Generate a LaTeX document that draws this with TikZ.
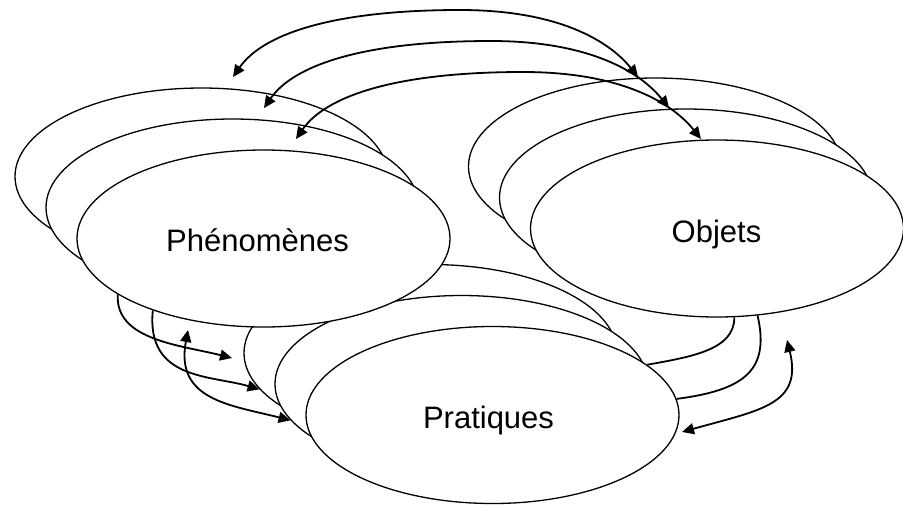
\documentclass[tikz,border=0pt]{standalone}
\usepackage{fontspec}
\setmainfont{Liberation Sans}
\usetikzlibrary{shapes.geometric,arrows.meta}
\begin{document}
\begin{tikzpicture}[x=1pt,y=-1pt,
  ell/.style={ellipse,draw,fill=white,line width=1.3pt,minimum width=373pt,minimum height=177pt,inner sep=0pt},
  lbl/.style={anchor=base,font=\fontsize{31}{36}\selectfont},
  >={Triangle[length=12pt,width=11pt]},
  con/.style={line width=1.8pt}]
\useasboundingbox (0,0) rectangle (903,507);
% Pratiques layers
\node[ell] (pr1) at (430.5,353) {};
\node[ell] (pr2) at (461.5,384) {};
\node[ell] (pr3) at (492.5,415) {};
% Phenomenes layers
\node[ell] (ph1) at (201.5,176.5) {};
\node[ell] (ph2) at (232.5,207.5) {};
\node[ell] (ph3) at (263.5,238.5) {};
% Objets layers
\node[ell] (ob1) at (655,166.5) {};
\node[ell] (ob2) at (686,197.5) {};
\node[ell] (ob3) at (717,228.5) {};
% labels
\node[lbl] (tph) at (257.5,251) {Phénomènes};
\node[lbl] (tob) at (716.5,242) {Objets};
\node[lbl] (tpr) at (488.5,428) {Pratiques};
% free ends
\coordinate (c1e) at (232,358);
\coordinate (c3s) at (188,330);
\coordinate (c6s) at (787,340);
\coordinate (c6e) at (682,432);
\coordinate (a1l) at (233,77);  \coordinate (a1m) at (460,10);  \coordinate (a1r) at (638,77);
\coordinate (a2l) at (264,108); \coordinate (a2m) at (491,41);  \coordinate (a2r) at (669,108);
\coordinate (a3l) at (296,139); \coordinate (a3m) at (523,72);  \coordinate (a3r) at (701,139);
% Phenomenes - Pratiques
\draw[con,->] (ph3.201.9) .. controls (115,340) and (180,345) .. (c1e);
\draw[con,->] (ph3.213.6) .. controls (146,380) and (210,375) .. (pr1.192.4);
\draw[con,<->] (c3s) .. controls (175,400) and (230,405) .. (pr2.192.7);
% Objets - Pratiques
\draw[con] (ob3.-79.8) .. controls (735,350) and (690,357) .. (pr3.18.5);
\draw[con] (ob3.-65.7) .. controls (770,370) and (745,390) .. (pr3.5.5);
\draw[con,<->] (c6s) .. controls (803,405) and (760,410) .. (c6e);
% Phenomenes - Objets
\draw[con,<->] (a1l) .. controls +(29,-42) and +(-130,0) .. (a1m) .. controls +(100,0) and +(-28,-35) .. (a1r);
\draw[con,<->] (a2l) .. controls +(29,-42) and +(-130,0) .. (a2m) .. controls +(100,0) and +(-28,-35) .. (a2r);
\draw[con,<->] (a3l) .. controls +(29,-42) and +(-130,0) .. (a3m) .. controls +(100,0) and +(-28,-35) .. (a3r);
\end{tikzpicture}
\end{document}
